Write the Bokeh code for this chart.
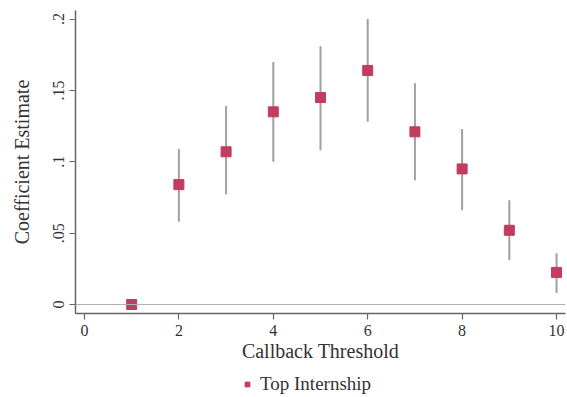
from bokeh.plotting import figure
from bokeh.layouts import column
from bokeh.models import (ColumnDataSource, FixedTicker, CustomJSTickFormatter, Span,
                          Legend, LegendItem, Range1d)
from bokeh.embed import file_html
from bokeh.resources import INLINE

thresholds = [1, 2, 3, 4, 5, 6, 7, 8, 9, 10]
estimates = [0.0, 0.084, 0.107, 0.135, 0.145, 0.164, 0.121, 0.095, 0.052, 0.0225]
ci_low = [0.0, 0.058, 0.077, 0.100, 0.108, 0.128, 0.087, 0.066, 0.031, 0.008]
ci_high = [0.0, 0.109, 0.139, 0.170, 0.181, 0.200, 0.155, 0.123, 0.073, 0.036]
x_ticks = [0, 2, 4, 6, 8, 10]
y_ticks = [0, 0.05, 0.1, 0.15, 0.2]
series_name = "Top Internship"

FONT = "Liberation Serif"
TEXT = "#333333"
AXIS = "#666666"
MARK = "#c23c5e"

src = ColumnDataSource(dict(x=thresholds, y=estimates, lo=ci_low, hi=ci_high))
bars = ColumnDataSource(dict(x=thresholds[1:], lo=ci_low[1:], hi=ci_high[1:]))

p = figure(width=567, height=365, output_backend="svg", toolbar_location=None,
           x_range=Range1d(-0.19, 10.19), y_range=Range1d(-0.0063, 0.206),
           min_border_left=75, min_border_right=2, min_border_top=10, min_border_bottom=52)
p.outline_line_color = None
p.grid.visible = False
p.background_fill_color = "white"
p.border_fill_color = "white"

p.add_layout(Span(location=0, dimension="width", line_color="#b0b0b0", line_width=1.2))

p.segment(x0="x", y0="lo", x1="x", y1="hi", source=bars, line_color="#a0a0a0", line_width=2)
r = p.scatter(x="x", y="y", source=src, marker="square", size=10,
              fill_color=MARK, line_color=MARK)

p.xaxis.ticker = FixedTicker(ticks=x_ticks)
p.yaxis.ticker = FixedTicker(ticks=y_ticks)
p.yaxis.formatter = CustomJSTickFormatter(code="""
if (tick == 0) return "0";
return tick.toFixed(2).replace(/^0/, "").replace(/0$/, "");
""")
p.yaxis.major_label_orientation = "vertical"
p.xaxis.axis_label = "Callback Threshold"
p.yaxis.axis_label = "Coefficient Estimate"
for ax in (p.xaxis, p.yaxis):
    ax.axis_line_color = AXIS
    ax.axis_line_width = 1.5
    ax.major_tick_line_color = AXIS
    ax.major_tick_line_width = 1.2
    ax.major_tick_out = 6
    ax.major_tick_in = 0
    ax.minor_tick_line_color = None
    ax.major_label_text_font = FONT
    ax.major_label_text_font_size = "16px"
    ax.major_label_text_color = TEXT
    ax.axis_label_text_font = FONT
    ax.axis_label_text_font_size = "20px"
    ax.axis_label_text_font_style = "normal"
    ax.axis_label_text_color = TEXT
p.xaxis.axis_label_standoff = 1
p.yaxis.axis_label_standoff = 18
p.xaxis.major_label_standoff = 5

# legend strip below the chart (its renderer draws the same data, kept out of view);
# the column aligns its frame with the main frame (left edge at 75 px)
lg = figure(width=567, height=32, output_backend="svg", toolbar_location=None,
            x_range=Range1d(100, 101), y_range=Range1d(100, 101),
            min_border=0, outline_line_color=None)
lg.axis.visible = False
lg.grid.visible = False
lr = lg.scatter(x="x", y="y", source=src, marker="square", size=9,
                fill_color=MARK, line_color=MARK)
legend = Legend(items=[LegendItem(label=series_name, renderers=[lr])],
                orientation="horizontal", location=(166, 2),
                border_line_color=None, background_fill_alpha=0,
                label_text_font=FONT, label_text_font_size="19px",
                label_text_color=TEXT, glyph_width=12, glyph_height=12,
                label_standoff=7, padding=2, margin=0)
lg.add_layout(legend, "center")

open("out.html", "w").write(file_html(column(p, lg, spacing=0), INLINE))
